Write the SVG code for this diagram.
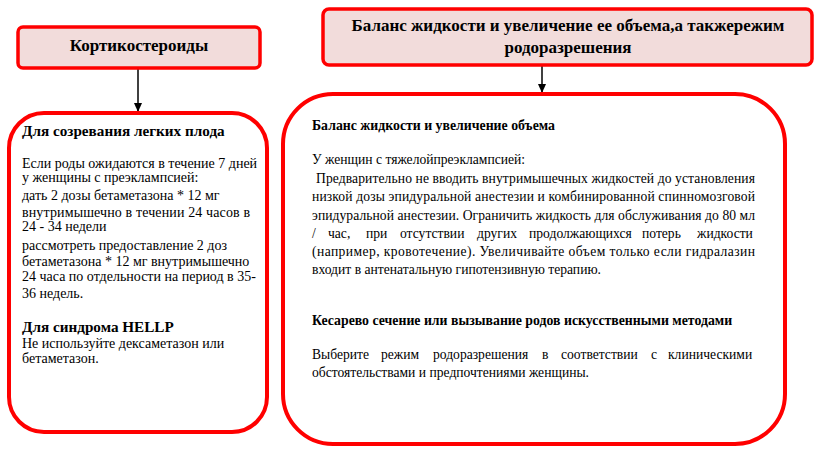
<svg xmlns="http://www.w3.org/2000/svg" width="814" height="450" viewBox="0 0 814 450">
<defs>
<style>
.hdr{fill:#f2dcdb;stroke:#ff0000;stroke-width:3.5}
.box{fill:#ffffff;stroke:#ff0000;stroke-width:4}
text{font-family:"Liberation Serif","Times New Roman",serif;fill:#000}
.ht{font-size:17px;font-weight:bold;text-anchor:middle}
.lt{font-size:14px}
.lb{font-size:15.2px;font-weight:bold}
.rt{font-size:13.6px}
.rb{font-size:13.8px;font-weight:bold}
.conn{stroke:#000;stroke-width:1.5;fill:none}
</style>
<marker id="arr" markerWidth="10" markerHeight="10" refX="9" refY="5" orient="auto" markerUnits="userSpaceOnUse">
<path d="M0,1 L9,5 L0,9 Z" fill="#000"/>
</marker>
</defs>
<rect width="814" height="450" fill="#fff"/>
<g id="connectors">
<line class="conn" x1="138" y1="69" x2="138" y2="112" marker-end="url(#arr)"/>
<line class="conn" x1="542" y1="66" x2="542" y2="93" marker-end="url(#arr)"/>
</g>
<g id="node-corticosteroids">
<rect class="hdr" x="18" y="27" width="242" height="41" rx="5"/>
<text class="ht" x="139" y="51">Кортикостероиды</text>
</g>
<g id="node-balance-header">
<rect class="hdr" x="323" y="9" width="489" height="56" rx="6"/>
<text class="ht" x="568" y="31">Баланс жидкости и увеличение ее объема,а такжережим</text>
<text class="ht" x="568" y="53">родоразрешения</text>
</g>
<g id="node-corticosteroids-detail">
<rect class="box" x="9" y="113" width="258" height="319" rx="35"/>
<text class="lb" x="22" y="136">Для созревания легких плода</text>
<text class="lt" x="22" y="168">Если роды ожидаются в течение 7 дней</text>
<text class="lt" x="22" y="182">у женщины с преэклампсией:</text>
<text class="lt" x="22" y="200">дать 2 дозы бетаметазона * 12 мг</text>
<text class="lt" x="22" y="217" textLength="228" lengthAdjust="spacing">внутримышечно  в течении 24 часов  в</text>
<text class="lt" x="22" y="231">24 - 34 недели</text>
<text class="lt" x="22" y="250">рассмотреть предоставление 2 доз</text>
<text class="lt" x="22" y="266">бетаметазона * 12 мг внутримышечно</text>
<text class="lt" x="22" y="281">24 часа по отдельности на период в 35-</text>
<text class="lt" x="22" y="298">36 недель.</text>
<text class="lb" x="22" y="332">Для синдрома HELLP</text>
<text class="lt" x="22" y="348">Не используйте дексаметазон или</text>
<text class="lt" x="22" y="363">бетаметазон.</text>
</g>
<g id="node-balance-detail">
<rect class="box" x="283" y="94" width="502" height="350" rx="50"/>
<text class="rb" x="312" y="130">Баланс жидкости и увеличение объема</text>
<text class="rt" x="312" y="164">У женщин с тяжелойпреэклампсией:</text>
<text class="rt" x="316" y="183" textLength="439" lengthAdjust="spacing">Предварительно не вводить внутримышечных жидкостей до установления</text>
<text class="rt" x="312" y="201" textLength="443" lengthAdjust="spacing">низкой дозы эпидуральной анестезии и комбинированной спинномозговой</text>
<text class="rt" x="312" y="220" textLength="443" lengthAdjust="spacing">эпидуральной анестезии. Ограничить жидкость для обслуживания до 80 мл</text>
<text class="rt" y="238"><tspan x="312">/</tspan><tspan x="328">час,</tspan><tspan x="366">при</tspan><tspan x="400">отсутствии</tspan><tspan x="477">других</tspan><tspan x="529">продолжающихся</tspan><tspan x="642">потерь</tspan><tspan x="697">жидкости</tspan></text>
<text class="rt" x="312" y="256" textLength="443" lengthAdjust="spacing">(например, кровотечение). Увеличивайте объем только если гидралазин</text>
<text class="rt" x="312" y="274">входит в антенатальную гипотензивную терапию.</text>
<text class="rb" x="312" y="325">Кесарево сечение или вызывание родов искусственными методами</text>
<text class="rt" y="359"><tspan x="312">Выберите</tspan><tspan x="381">режим</tspan><tspan x="433">родоразрешения</tspan><tspan x="542">в</tspan><tspan x="561">соответствии</tspan><tspan x="651">с</tspan><tspan x="668">клиническими</tspan></text>
<text class="rt" x="312" y="377">обстоятельствами и предпочтениями женщины.</text>
</g>
</svg>
